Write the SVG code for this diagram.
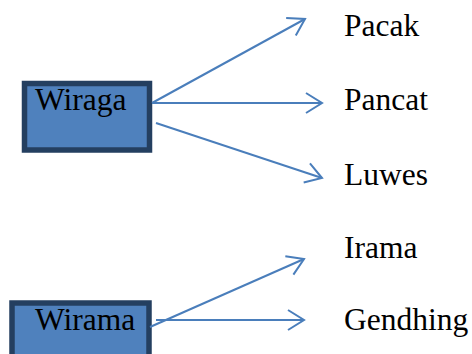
<svg xmlns="http://www.w3.org/2000/svg" width="472" height="354" viewBox="0 0 472 354">
<style>
.box{fill:#4f81bd;stroke:#243f60;stroke-width:5.5}
.t{font-family:"Liberation Serif","Times New Roman",serif;font-size:31.5px;fill:#000}
.c{stroke:#4a7ebb;stroke-width:2;fill:none;marker-end:url(#ah)}
</style>
<defs>
<marker id="ah" markerUnits="userSpaceOnUse" viewBox="-18 -12 20 24" refX="0" refY="0" markerWidth="20" markerHeight="24" orient="auto">
<path d="M-16,-10 L0,0 L-16,10" fill="none" stroke="#4a7ebb" stroke-width="2"/>
</marker>
</defs>
<g id="wiraga"><rect class="box" x="24.5" y="83.5" width="125" height="66.5"/><text class="t" x="35" y="110">Wiraga</text></g>
<g id="wirama"><rect class="box" x="12" y="303" width="137" height="70"/><text class="t" x="35" y="330">Wirama</text></g>
<g id="pacak"><text class="t" x="344" y="36">Pacak</text></g>
<g id="pancat"><text class="t" x="344" y="110">Pancat</text></g>
<g id="luwes"><text class="t" x="344" y="185">Luwes</text></g>
<g id="irama"><text class="t" x="344" y="258">Irama</text></g>
<g id="gendhing"><text class="t" x="344" y="330">Gendhing</text></g>
<g id="connectors">
<line class="c" x1="152" y1="103" x2="305" y2="19"/>
<line class="c" x1="152" y1="103" x2="322" y2="103"/>
<line class="c" x1="156" y1="123" x2="322" y2="178"/>
<line class="c" x1="150" y1="327" x2="304" y2="259"/>
<line class="c" x1="156" y1="320" x2="304" y2="320"/>
</g>
</svg>
